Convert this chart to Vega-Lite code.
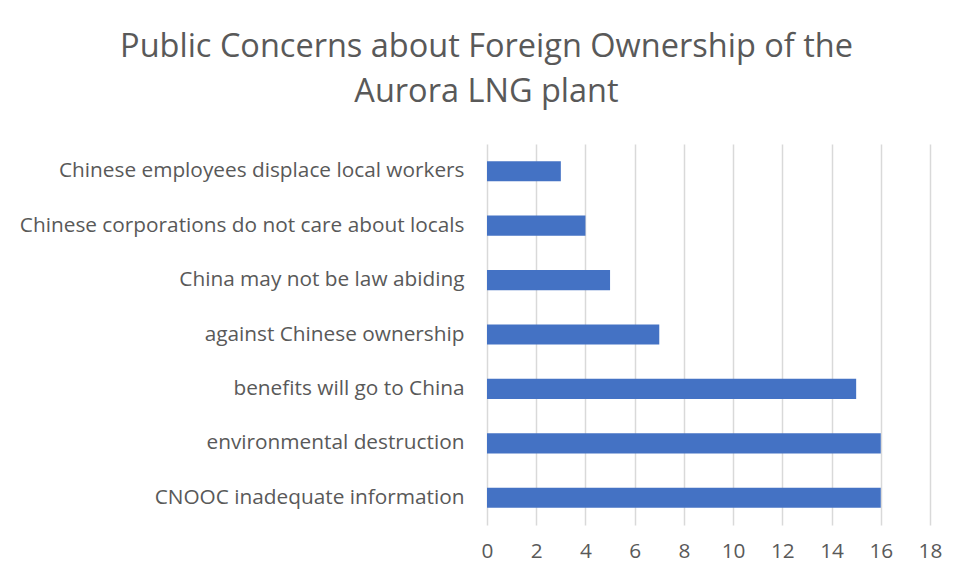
{
  "$schema": "https://vega.github.io/schema/vega-lite/v6.json",
  "autosize": "none",
  "width": 443,
  "height": 381,
  "padding": {"left": 487, "top": 144, "right": 41, "bottom": 60},
  "background": "white",
  "title": {
    "text": ["Public Concerns about Foreign Ownership of the", "Aurora LNG plant"],
    "font": "Open Sans",
    "fontSize": 32.5,
    "fontWeight": "normal",
    "color": "#595959",
    "lineHeight": 45,
    "anchor": "middle",
    "dx": -222,
    "offset": 36
  },
  "data": {
    "values": [
      {"concern": "Chinese employees displace local workers", "count": 3},
      {"concern": "Chinese corporations do not care about locals", "count": 4},
      {"concern": "China may not be law abiding ", "count": 5},
      {"concern": "against Chinese ownership", "count": 7},
      {"concern": "benefits will go to China", "count": 15},
      {"concern": "environmental destruction", "count": 16},
      {"concern": "CNOOC inadequate information", "count": 16}
    ]
  },
  "mark": {"type": "bar", "color": "#4472C4"},
  "encoding": {
    "y": {
      "field": "concern",
      "type": "nominal",
      "sort": null,
      "scale": {"paddingInner": 0.63, "paddingOuter": 0.315},
      "axis": {
        "title": null,
        "ticks": false,
        "domain": false,
        "grid": false,
        "labelFont": "Open Sans",
        "labelFontSize": 20.8,
        "labelColor": "#595959",
        "labelPadding": 23,
        "labelLimit": 500
      }
    },
    "x": {
      "field": "count",
      "type": "quantitative",
      "scale": {"domain": [0, 18], "nice": false},
      "axis": {
        "title": null,
        "values": [0, 2, 4, 6, 8, 10, 12, 14, 16, 18],
        "ticks": false,
        "domain": false,
        "grid": true,
        "gridColor": "#d9d9d9",
        "gridWidth": 1.5,
        "labelFont": "Open Sans",
        "labelFontSize": 20.8,
        "labelColor": "#595959",
        "labelPadding": 16,
        "labelFlush": false,
        "labelOverlap": false
      }
    }
  },
  "config": {"view": {"stroke": null}}
}
